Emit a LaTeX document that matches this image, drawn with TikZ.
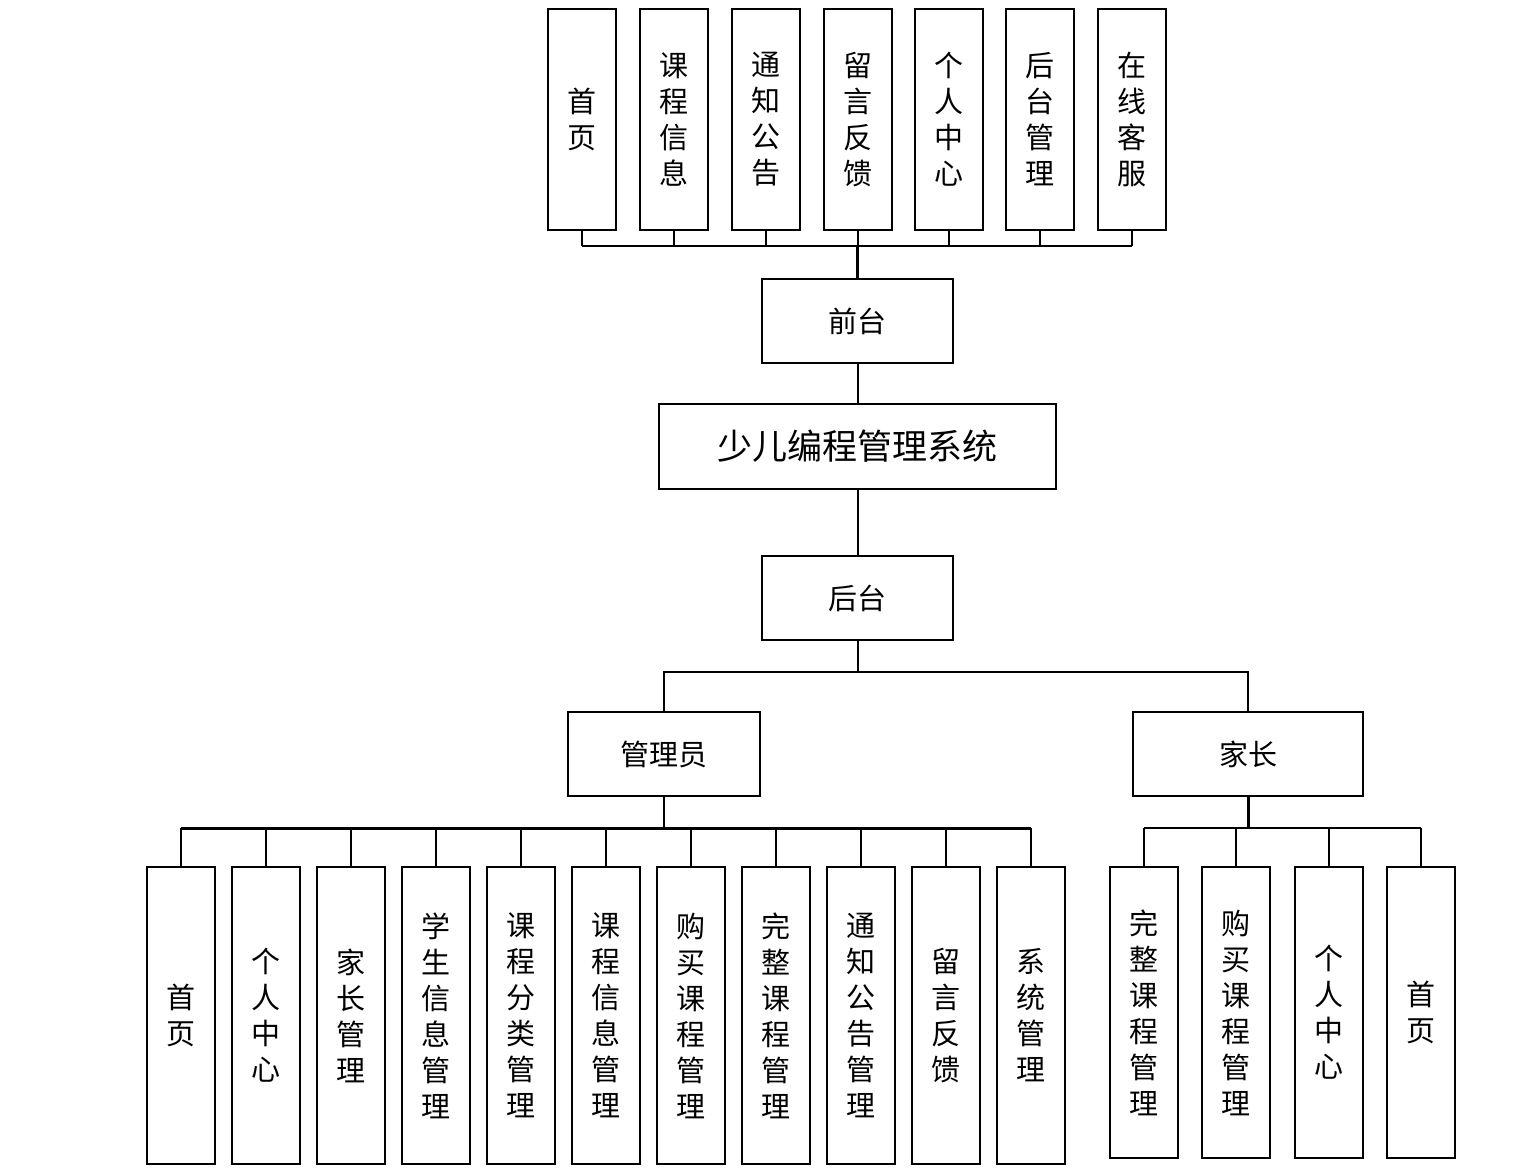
\documentclass[tikz,border=0pt]{standalone}
\usepackage{fontspec}
\newfontfamily\cjk{Noto Sans CJK SC}
\tikzset{
    box/.style={draw, black, line width=2pt, inner sep=0pt, align=center,
        font=\cjk\fontsize{29}{36}\selectfont},
    vbox/.style={box, minimum width=68pt},
    wire/.style={black, line width=2pt}
}

\begin{document}
\begin{tikzpicture}[x=1pt, y=-1pt]
    \useasboundingbox (0,0) rectangle (1527,1175);
    % Below nodes are the front pages.
        \foreach \i/\x/\t in {1/582/{首\\页}, 2/674/{课\\程\\信\\息}, 3/766/{通\\知\\公\\告},
                4/857.5/{留\\言\\反\\馈}, 5/949/{个\\人\\中\\心}, 6/1040/{后\\台\\管\\理},
                7/1132/{在\\线\\客\\服}}
            \node[vbox, minimum height=221pt] (t\i) at (\x, 119.5) {\t};
    % The middle column.
        \node[box, minimum width=191pt, minimum height=84pt] (qt) at (857.5, 321) {前台};
        \node[box, minimum width=397pt, minimum height=85pt, font=\cjk\fontsize{35}{40}\selectfont] (sys) at (857.5, 446.5) {少儿编程管理系统};
        \node[box, minimum width=191pt, minimum height=84pt] (ht) at (857.5, 598) {后台};
        \node[box, minimum width=192pt, minimum height=84pt] (admin) at (664, 754) {管理员};
        \node[box, minimum width=230pt, minimum height=84pt] (parent) at (1248, 754) {家长};
    % Admin pages.
        \foreach \i/\x/\t in {1/181/{首\\页}, 2/266/{个\\人\\中\\心}, 3/351/{家\\长\\管\\理},
                4/436/{学\\生\\信\\息\\管\\理}, 5/521/{课\\程\\分\\类\\管\\理},
                6/606/{课\\程\\信\\息\\管\\理}, 7/691/{购\\买\\课\\程\\管\\理},
                8/776/{完\\整\\课\\程\\管\\理}, 9/861/{通\\知\\公\\告\\管\\理},
                10/946/{留\\言\\反\\馈}, 11/1031/{系\\统\\管\\理}}
            \node[vbox, minimum height=297pt] (a\i) at (\x, 1015.5) {\t};
    % Parent pages.
        \foreach \i/\x/\t in {1/1144/{完\\整\\课\\程\\管\\理}, 2/1236/{购\\买\\课\\程\\管\\理},
                3/1329/{个\\人\\中\\心}, 4/1421/{首\\页}}
            \node[vbox, minimum height=291pt] (p\i) at (\x, 1012.5) {\t};
    % This draws the connectors.
        \coordinate (tbus) at (857.5, 246);
        \coordinate (hbus) at (857.5, 672);
        \coordinate (abus) at (664, 828);
        \coordinate (pbus) at (1248, 828);
        \foreach \i in {1,...,7}
            \draw[wire] (t\i.south) -- (t\i.south |- tbus);
        \draw[wire] (t1.south |- tbus) -- (t7.south |- tbus);
        \draw[wire, line width=3pt] (tbus) -- (qt.north);
        \draw[wire] (qt.south) -- (sys.north);
        \draw[wire] (sys.south) -- (ht.north);
        \draw[wire] (ht.south) -- (hbus);
        \draw[wire] (admin.north) |- (hbus) -| (parent.north);
        \draw[wire] (admin.south) -- (abus);
        \foreach \i in {1,...,11}
            \draw[wire] (a\i.north) -- (a\i.north |- abus);
        \draw[wire, line width=3pt] (a1.north |- abus) -- (a11.north |- abus);
        \draw[wire, line width=3pt] (parent.south) -- (pbus);
        \foreach \i in {1,...,4}
            \draw[wire] (p\i.north) -- (p\i.north |- pbus);
        \draw[wire] (p1.north |- pbus) -- (p4.north |- pbus);
\end{tikzpicture}
\end{document}
